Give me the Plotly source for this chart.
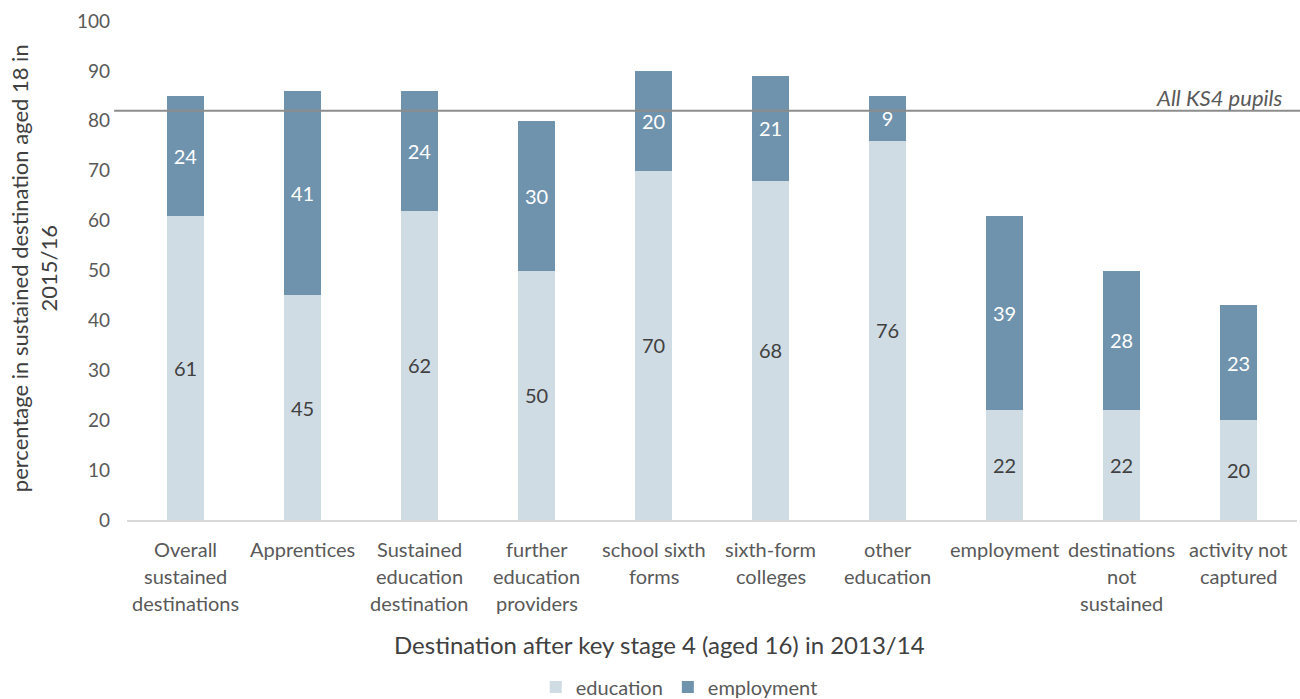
import plotly.graph_objects as go

categories = [
    "Overall<br>sustained<br>destinations",
    "Apprentices",
    "Sustained<br>education<br>destination",
    "further<br>education<br>providers",
    "school sixth<br>forms",
    "sixth-form<br>colleges",
    "other<br>education",
    "employment",
    "destinations<br>not<br>sustained",
    "activity not<br>captured",
]
education = [61, 45, 62, 50, 70, 68, 76, 22, 22, 20]
employment = [24, 41, 24, 30, 20, 21, 9, 39, 28, 23]
all_ks4 = 82
y_ticks = [0, 10, 20, 30, 40, 50, 60, 70, 80, 90, 100]

FONT = "Lato"
fig = go.Figure()
fig.add_trace(go.Bar(
    x=categories, y=education, name="education",
    marker=dict(color="#D0DCE4", line=dict(width=0)),
    text=education, textposition="inside", insidetextanchor="middle",
    textfont=dict(color="#404040", size=20, family=FONT), width=0.315,
))
fig.add_trace(go.Bar(
    x=categories, y=employment, name="employment",
    marker=dict(color="#6F93AD", line=dict(width=0)),
    text=employment, textposition="inside", insidetextanchor="middle",
    textfont=dict(color="white", size=20, family=FONT), width=0.315,
))
fig.add_shape(type="line", xref="paper", yref="y", x0=-0.011, x1=1.01,
              y0=all_ks4, y1=all_ks4, line=dict(color="#8C8C8C", width=2))
fig.add_annotation(xref="paper", yref="y", x=0.99, y=all_ks4, text="<i>All KS4 pupils</i>",
                   showarrow=False, xanchor="right", yanchor="bottom", yshift=-2,
                   font=dict(size=22, color="#595959", family=FONT))
fig.add_annotation(xref="paper", yref="paper", x=-0.105, y=0.505,
                   text="percentage in sustained destination aged 18 in<br>2015/16",
                   textangle=-90, showarrow=False, xanchor="left", yanchor="middle",
                   font=dict(size=22, color="#404040", family=FONT))
fig.add_annotation(xref="paper", yref="paper", x=0.455, y=-0.25,
                   text="Destination after key stage 4 (aged 16) in 2013/14",
                   showarrow=False, xanchor="center", yanchor="middle",
                   font=dict(size=24, color="#404040", family=FONT))

# category labels with wider line spacing
for cat in categories:
    for i, line in enumerate(cat.split("<br>")):
        fig.add_annotation(xref="x", yref="y", x=cat, y=0, text=line,
                           showarrow=False, xanchor="center", yanchor="middle",
                           yshift=-(29 + 27 * i),
                           font=dict(size=20, color="#595959", family=FONT))

fig.update_layout(
    barmode="stack", width=1300, height=699,
    margin=dict(l=127, r=3, t=21, b=179, autoexpand=False),
    plot_bgcolor="white", paper_bgcolor="white",
    font=dict(family=FONT, size=18, color="#595959"),
    showlegend=True,
    legend=dict(orientation="h", x=0.472, xanchor="center",
                yref="container", y=0.017, yanchor="middle",
                font=dict(size=20, color="#595959", family=FONT),
                traceorder="normal"),
    xaxis=dict(showline=True, linecolor="#D9D9D9", linewidth=2, ticks="",
               showticklabels=False),
    yaxis=dict(range=[0, 100], tickvals=y_ticks, showgrid=False, zeroline=False,
               tickfont=dict(size=19, color="#595959", family=FONT), ticks="",
               ticklabelstandoff=16),
)
fig.write_html("out.html")
